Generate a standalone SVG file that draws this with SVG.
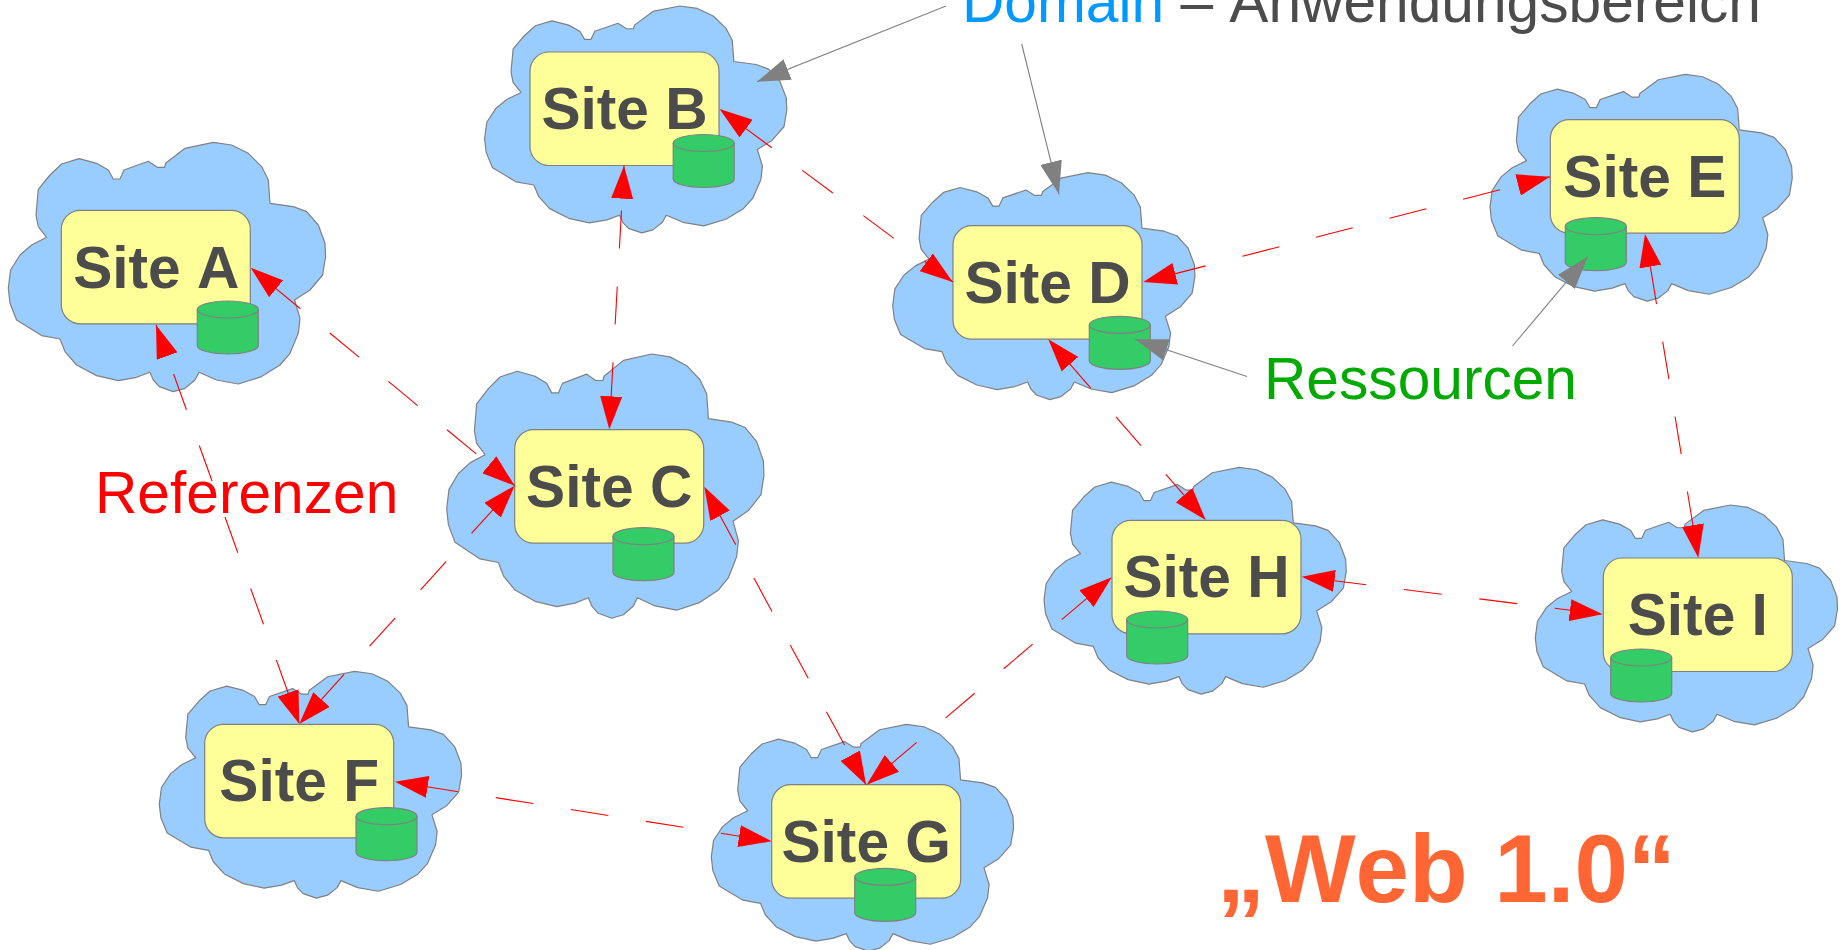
<svg xmlns="http://www.w3.org/2000/svg" width="1845" height="950" viewBox="0 0 1845 950">
<style>
text{font-family:"Liberation Sans",Arial,sans-serif;font-size:58.67px;font-kerning:none}
.cloud{fill:#99ccff;stroke:#808080;stroke-width:1.2;stroke-linejoin:round;vector-effect:non-scaling-stroke}
.box{fill:#ffff99;stroke:#808080;stroke-width:1.2}
.cyl{fill:#33cc66;stroke:#808080;stroke-width:1.2}
.rim{fill:none;stroke:#808080;stroke-width:1.2}
.site{font-weight:bold;fill:#4c4c4c;text-anchor:middle}
.ref{fill:none;stroke:#ff0000;stroke-width:1.1;stroke-dasharray:38 38;marker-start:url(#rh);marker-end:url(#rh)}
.ptr{fill:none;stroke:#808080;stroke-width:1.1;marker-end:url(#gh)}
</style>
<defs>
<marker id="rh" markerUnits="userSpaceOnUse" markerWidth="33" markerHeight="22" refX="33" refY="11" orient="auto-start-reverse"><path d="M0,0L33,11L0,22Z" fill="#ff0000"/></marker>
<marker id="gh" markerUnits="userSpaceOnUse" markerWidth="33" markerHeight="22" refX="33" refY="11" orient="auto"><path d="M0,0L33,11L0,22Z" fill="#808080"/></marker>
<path id="cloud" class="cloud" d="M38.3,95L30,84.3L27.7,72.7L30,47L41.7,32.7L53.3,21.7L70.7,16.3L88.3,21L100,27.7L105,36.7L111.7,36.7L115.7,27.7L140,19L149,25L156.3,25L157.3,21L176.7,6L205,0L223.3,2.7L240,11L253.3,24.3L260,37.7L261.7,61L285,64.3L298.3,69.3L310,82.7L316.7,101L317.3,114.3L314.3,132.7L301.7,147.7L286.3,157.7L291.7,176L290,191L281.7,211L271.7,222.7L253.3,234.3L230,241.7L208.3,237.7L190.7,230L186.7,237.7L176.7,246L165,249.3L151,244.3L145,237.7L141.7,230L128.3,235L110,238.3L88.3,233.3L68.3,222.7L56.7,209.3L51.7,196.7L33.3,193.3L8.3,177.7L1.7,161L0,146L2.3,127.7L11.7,112.7L23.3,102.7Z"/>
<rect id="box" class="box" width="189" height="113.5" rx="19" ry="19"/>
<g id="cyl"><path class="cyl" d="M0,8.5A30.5,8.5 0 0 1 61,8.5V44.5A30.5,8.5 0 0 1 0,44.5Z"/><path class="rim" d="M0,8.5A30.5,8.5 0 0 0 61,8.5"/></g>
</defs>
<rect width="1845" height="950" fill="#ffffff"/>
<g id="site-a"><use href="#cloud" transform="translate(8.3,142.3)"/><use href="#box" x="61.3" y="210.3"/><use href="#cyl" x="197.3" y="301"/><text class="site" x="156.3" y="287.5">Site A</text></g>
<g id="site-b"><use href="#cloud" transform="translate(484.6,6) scale(.9525,.91)"/><use href="#box" x="530" y="52"/><use href="#cyl" x="673.2" y="134.5"/><text class="site" x="624.5" y="129">Site B</text></g>
<g id="site-c"><use href="#cloud" transform="translate(446.7,354) scale(1,1.06)"/><use href="#box" x="514.7" y="429.7"/><use href="#cyl" x="613" y="527.7"/><text class="site" x="609.2" y="506.7">Site C</text></g>
<g id="site-d"><use href="#cloud" transform="translate(892.7,172.7) scale(.9525,.91)"/><use href="#box" x="953" y="225.7"/><use href="#cyl" x="1089.3" y="316.3"/><text class="site" x="1047.5" y="302.7">Site D</text></g>
<g id="site-e"><use href="#cloud" transform="translate(1490,74.3) scale(.9525,.91)"/><use href="#box" x="1550.3" y="119.7"/><use href="#cyl" x="1565.3" y="217.7"/><text class="site" x="1644.8" y="196.7">Site E</text></g>
<g id="site-f"><use href="#cloud" transform="translate(159.3,671.3) scale(.9525,.91)"/><use href="#box" x="204.7" y="724.3"/><use href="#cyl" x="356" y="807.7"/><text class="site" x="299.2" y="801.3">Site F</text></g>
<g id="site-g"><use href="#cloud" transform="translate(711.3,724.3) scale(.9525,.91)"/><use href="#box" x="771.7" y="784.7"/><use href="#cyl" x="854.7" y="868.3"/><text class="site" x="866.2" y="861.7">Site G</text></g>
<g id="site-h"><use href="#cloud" transform="translate(1044,467.3) scale(.9525,.91)"/><use href="#box" x="1112" y="520.3"/><use href="#cyl" x="1126.7" y="611"/><text class="site" x="1206.5" y="597.3">Site H</text></g>
<g id="site-i"><use href="#cloud" transform="translate(1535.3,505) scale(.9525,.91)"/><use href="#box" x="1603.3" y="558"/><use href="#cyl" x="1610.7" y="649"/><text class="site" x="1697.8" y="635">Site I</text></g>
<g id="connectors">
<path class="ref" stroke-dashoffset="-26.5" d="M250.7,267.7L514.7,485.7"/>
<path class="ref" stroke-dashoffset="-52" d="M156,325L299.3,724"/>
<path class="ref" stroke-dashoffset="-45" d="M624,165.7L609.3,429.3"/>
<path class="ref" stroke-dashoffset="-27" d="M719.6,109L952.7,282"/>
<path class="ref" stroke-dashoffset="-26.4" d="M1143.3,282L1550,176.7"/>
<path class="ref" stroke-dashoffset="-28" d="M704.3,486.7L866,784.7"/>
<path class="ref" stroke-dashoffset="-26.4" d="M514.7,485.7L299.3,724"/>
<path class="ref" stroke-dashoffset="-26" d="M395,781.7L771.7,841.3"/>
<path class="ref" stroke-dashoffset="-27.5" d="M866.7,784.7L1111.7,577.3"/>
<path class="ref" stroke-dashoffset="-27" d="M1301.7,576.7L1602.7,614.3"/>
<path class="ref" stroke-dashoffset="-27" d="M1048.3,339.3L1205.7,520"/>
<path class="ref" stroke-dashoffset="-33" d="M1645,234L1698.3,557.7"/>
<path class="ptr" d="M946,6L757,81.7"/>
<path class="ptr" d="M1021.7,44L1059,194.3"/>
<path class="ptr" d="M1247,376.5L1135,339.3"/>
<path class="ptr" d="M1512.5,346L1587.7,256.7"/>
</g>
<text x="962" y="21.5"><tspan fill="#0099ff">Domain</tspan><tspan fill="#4c4c4c"> – Anwendungsbereich</tspan></text>
<text x="1264" y="399" fill="#00aa00">Ressourcen</text>
<text x="95" y="513" fill="#ff0000">Referenzen</text>
<text x="1217" y="901.7" fill="#ff6633" font-weight="bold" style="font-size:96px">„Web 1.0“</text>
</svg>
